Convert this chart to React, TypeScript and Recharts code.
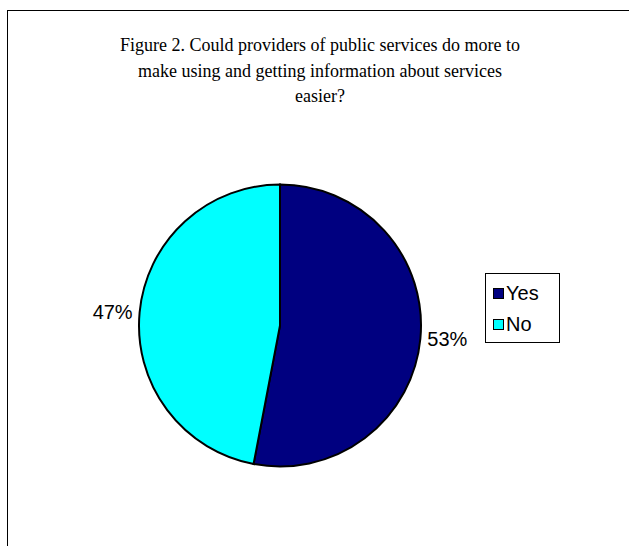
import { PieChart, Pie, Cell } from 'recharts';

const categories = ['Yes', 'No'];
const shares = [53, 47];
const colors = ['#000080', '#00FFFF'];

const titleLines = [
  'Figure 2. Could providers of public services do more to',
  'make using and getting information about services',
  'easier?',
];

const data = categories.map((name, i) => ({ name, value: shares[i], color: colors[i] }));

const RAD = Math.PI / 180;

function renderLabel(props: any) {
  const { cx, cy, midAngle, outerRadius, value } = props;
  const r = outerRadius + 7;
  const x = cx + r * Math.cos(-midAngle * RAD);
  const y = cy + r * Math.sin(-midAngle * RAD);
  return (
    <text
      x={x}
      y={y}
      textAnchor={x > cx ? 'start' : 'end'}
      dominantBaseline="central"
      fill="#000"
      fontFamily="'Liberation Sans', Arial, sans-serif"
      fontSize={20}
    >
      {`${value}%`}
    </text>
  );
}

function LegendBox() {
  return (
    <div
      style={{
        position: 'absolute',
        left: 485,
        top: 273,
        width: 75,
        height: 70,
        border: '1px solid #000',
        background: '#fff',
        boxSizing: 'border-box',
        paddingTop: 4,
        paddingLeft: 7,
        fontFamily: "'Liberation Sans', Arial, sans-serif",
        fontSize: 20,
      }}
    >
      {data.map((d) => (
        <div key={d.name} style={{ display: 'flex', alignItems: 'center', height: 31 }}>
          <span
            style={{
              width: 9,
              height: 9,
              background: d.color,
              border: '1px solid #000',
              marginRight: 2,
            }}
          />
          <span>{d.name}</span>
        </div>
      ))}
    </div>
  );
}

export default function App() {
  return (
    <div
      style={{
        position: 'absolute',
        left: 0,
        top: 0,
        width: 629,
        height: 546,
        overflow: 'hidden',
        background: '#fff',
      }}
    >
      <div
        style={{
          position: 'absolute',
          left: 7,
          top: 10,
          width: 700,
          height: 700,
          border: '1.5px solid #000',
        }}
      />
      <div
        style={{
          position: 'absolute',
          left: 0,
          top: 33,
          width: 640,
          textAlign: 'center',
          fontFamily: "'Liberation Serif', 'Times New Roman', serif",
          fontSize: 18,
          lineHeight: '25.5px',
          color: '#000',
        }}
      >
        {titleLines.map((t) => (
          <div key={t}>{t}</div>
        ))}
      </div>
      <div style={{ position: 'absolute', left: 0, top: 0 }}>
        <PieChart width={629} height={546} margin={{ top: 0, right: 0, bottom: 0, left: 0 }}>
          <Pie
            data={data}
            dataKey="value"
            nameKey="name"
            cx={280}
            cy={325.5}
            outerRadius={141}
            startAngle={90}
            endAngle={-270}
            stroke="#000"
            strokeWidth={2}
            label={renderLabel}
            labelLine={false}
            isAnimationActive={false}
          >
            {data.map((d) => (
              <Cell key={d.name} fill={d.color} />
            ))}
          </Pie>
        </PieChart>
      </div>
      <LegendBox />
    </div>
  );
}
